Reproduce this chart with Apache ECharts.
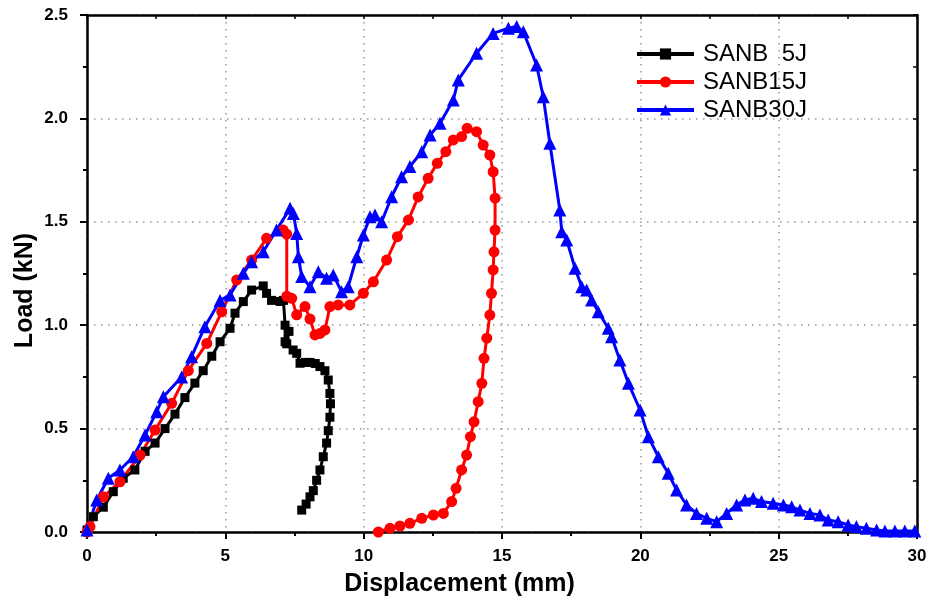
<!DOCTYPE html>
<html>
<head>
<meta charset="utf-8">
<script src="https://cdn.jsdelivr.net/npm/echarts@6/dist/echarts.min.js"></script>
<style>
html,body{margin:0;padding:0;background:#fff;}
#chart{width:932px;height:606px;}
</style>
</head>
<body>
<div id="chart"></div>
<script>
const seriesNames = ['SANB  5J', 'SANB15J', 'SANB30J'];
const xTicks = [0, 5, 10, 15, 20, 25, 30];
const yTicks = [0.0, 0.5, 1.0, 1.5, 2.0, 2.5];

const sanb5 = [
  [0,0.01],[0.23,0.074],[0.59,0.12],[0.95,0.195],[1.31,0.26],[1.73,0.30],[2.10,0.39],[2.46,0.43],
  [2.82,0.50],[3.18,0.57],[3.54,0.65],[3.90,0.72],[4.20,0.78],[4.51,0.85],[4.81,0.92],[5.17,0.985],
  [5.35,1.058],[5.65,1.114],[5.95,1.17],[6.37,1.19],[6.49,1.154],[6.67,1.12],[6.98,1.115],[7.10,1.12],
  [7.16,1.0],[7.16,0.92],[7.30,0.97],[7.22,0.91],[7.45,0.88],[7.58,0.864],[7.70,0.816],[7.90,0.82],
  [8.06,0.82],[8.25,0.815],[8.42,0.80],[8.60,0.78],[8.72,0.735],[8.78,0.67],[8.80,0.62],[8.78,0.555],
  [8.72,0.49],[8.66,0.43],[8.54,0.364],[8.42,0.30],[8.30,0.25],[8.18,0.20],[8.06,0.17],[7.92,0.135],[7.76,0.106]
];
const sanb15 = [
  [0,0.0],[0.11,0.026],[0.59,0.17],[1.19,0.243],[1.92,0.372],[2.46,0.493],[3.06,0.622],[3.66,0.78],
  [4.33,0.912],[4.87,1.065],[5.41,1.219],[5.95,1.315],[6.49,1.42],[7.09,1.46],[7.22,1.44],[7.22,1.14],
  [7.40,1.13],[7.58,1.05],[7.88,1.09],[8.06,1.03],[8.24,0.953],[8.42,0.96],[8.60,0.977],[8.78,1.09],
  [9.08,1.098],[9.50,1.098],[9.99,1.154],[10.35,1.21],[10.83,1.315],[11.22,1.428],[11.62,1.509],[11.97,1.62],
  [12.33,1.71],[12.66,1.783],[12.97,1.839],[13.24,1.896],[13.54,1.912],[13.74,1.952],[14.08,1.936],[14.32,1.871],
  [14.56,1.823],[14.68,1.742],[14.75,1.614],[14.75,1.46],[14.71,1.355],[14.68,1.267],[14.62,1.154],[14.56,1.049],
  [14.45,0.937],[14.35,0.84],[14.27,0.719],[14.14,0.63],[13.99,0.533],[13.86,0.461],[13.72,0.372],[13.54,0.30],
  [13.34,0.211],[13.18,0.147],[12.88,0.09],[12.52,0.082],[12.10,0.066],[11.67,0.042],[11.31,0.029],[10.95,0.018],[10.53,0.0]
];
const sanb30 = [
  [0,0.01],[0.35,0.155],[0.77,0.26],[1.19,0.30],[1.67,0.364],[2.10,0.469],[2.52,0.582],[2.76,0.654],
  [3.42,0.75],[3.78,0.848],[4.26,0.993],[4.81,1.12],[5.17,1.146],[5.65,1.251],[5.95,1.307],[6.37,1.355],
  [6.85,1.46],[7.34,1.565],[7.46,1.54],[7.58,1.444],[7.64,1.331],[7.76,1.235],[8.06,1.186],[8.36,1.259],
  [8.66,1.227],[8.90,1.243],[9.20,1.162],[9.44,1.186],[9.75,1.331],[9.99,1.436],[10.23,1.525],[10.41,1.533],
  [10.65,1.50],[11.01,1.621],[11.37,1.718],[11.67,1.767],[12.10,1.839],[12.40,1.92],[12.76,1.976],[13.24,2.089],
  [13.42,2.186],[14.08,2.315],[14.68,2.411],[15.23,2.436],[15.53,2.444],[15.77,2.419],[16.25,2.258],[16.49,2.105],
  [16.73,1.88],[17.09,1.557],[17.16,1.452],[17.34,1.412],[17.64,1.275],[17.88,1.186],[18.06,1.17],[18.24,1.122],
  [18.48,1.065],[18.84,0.985],[18.96,0.944],[19.26,0.832],[19.57,0.719],[19.99,0.59],[20.29,0.461],[20.65,0.364],
  [21.01,0.284],[21.31,0.203],[21.67,0.131],[22.03,0.09],[22.40,0.066],[22.76,0.05],[23.12,0.09],[23.48,0.131],
  [23.78,0.155],[24.08,0.163],[24.38,0.147],[24.80,0.139],[25.17,0.131],[25.47,0.122],[25.77,0.106],[26.13,0.09],
  [26.49,0.082],[26.79,0.058],[27.15,0.05],[27.51,0.034],[27.81,0.026],[28.17,0.018],[28.54,0.01],[28.84,0.005],
  [29.20,0.005],[29.56,0.005],[29.92,0.005]
];

const FONT = "'Liberation Sans', Arial, sans-serif";
const chart = echarts.init(document.getElementById('chart'), null, {renderer: 'canvas'});
const axisLineStyle = {color: '#000', width: 2.5};
const gridLineStyle = {type: [1.5, 5.5], color: '#999', width: 1.5};

function mkSeries(name, data, color, symbol, size) {
  return {
    name: name, type: 'line', data: data,
    symbol: symbol, symbolSize: size, showSymbol: true, showAllSymbol: true,
    lineStyle: {color: color, width: 3},
    itemStyle: {color: color},
    animation: false
  };
}

chart.setOption({
  animation: false,
  backgroundColor: '#fff',
  grid: {left: 87, right: 15, top: 15, bottom: 74},
  legend: {
    orient: 'vertical', left: 635, top: 42, padding: 0,
    itemWidth: 57, itemHeight: 14, itemGap: 4,
    lineStyle: {width: 4},
    textStyle: {fontFamily: FONT, fontSize: 24, color: '#000', lineHeight: 24, padding: [0,0,0,4]},
    data: seriesNames
  },
  xAxis: [{
    type: 'value', position: 'bottom', min: 0, max: 30, interval: 5,
    axisLine: {show: true, onZero: false, lineStyle: axisLineStyle},
    axisTick: {show: true, inside: false, length: 7, lineStyle: {color: '#000', width: 2}},
    minorTick: {show: true, splitNumber: 2, length: 4, lineStyle: {color: '#000', width: 2}},
    axisLabel: {fontFamily: FONT, fontWeight: 'bold', fontSize: 17, color: '#000', margin: 16,
      formatter: v => xTicks.includes(v) ? String(v) : ''},
    splitLine: {show: true, lineStyle: gridLineStyle},
    name: 'Displacement (mm)', nameLocation: 'middle', nameGap: 40,
    nameTextStyle: {fontFamily: FONT, fontWeight: 'bold', fontSize: 25, color: '#000', padding: [0, 85, 0, 0]}
  }, {
    type: 'value', position: 'top', min: 0, max: 30, interval: 2.5,
    axisLine: {show: true, onZero: false, lineStyle: axisLineStyle},
    axisTick: {show: true, inside: true, length: 4, lineStyle: {color: '#000', width: 1.5}},
    axisLabel: {show: false}, splitLine: {show: false}
  }],
  yAxis: [{
    type: 'value', position: 'left', min: 0, max: 2.5, interval: 0.5,
    axisLine: {show: true, onZero: false, lineStyle: axisLineStyle},
    axisTick: {show: true, inside: false, length: 7, lineStyle: {color: '#000', width: 2}},
    minorTick: {show: true, splitNumber: 2, length: 4, lineStyle: {color: '#000', width: 2}},
    axisLabel: {fontFamily: FONT, fontWeight: 'bold', fontSize: 17, color: '#000', margin: 19,
      formatter: v => yTicks.some(t => Math.abs(t - v) < 1e-9) ? v.toFixed(1) : ''},
    splitLine: {show: true, lineStyle: gridLineStyle},
    name: 'Load (kN)', nameLocation: 'middle', nameGap: 49, nameMoveOverlap: false,
    nameTextStyle: {fontFamily: FONT, fontWeight: 'bold', fontSize: 25, color: '#000', padding: [0, 34, 0, 0]}
  }, {
    type: 'value', position: 'right', min: 0, max: 2.5, interval: 0.25,
    axisLine: {show: true, onZero: false, lineStyle: axisLineStyle},
    axisTick: {show: true, inside: true, length: 4, lineStyle: {color: '#000', width: 1.5}},
    axisLabel: {show: false}, splitLine: {show: false}
  }],
  series: [
    mkSeries(seriesNames[0], sanb5, '#000000', 'rect', 9),
    mkSeries(seriesNames[1], sanb15, '#ff0000', 'circle', 11),
    mkSeries(seriesNames[2], sanb30, '#0000ff', 'triangle', 13)
  ]
});
</script>
</body>
</html>
